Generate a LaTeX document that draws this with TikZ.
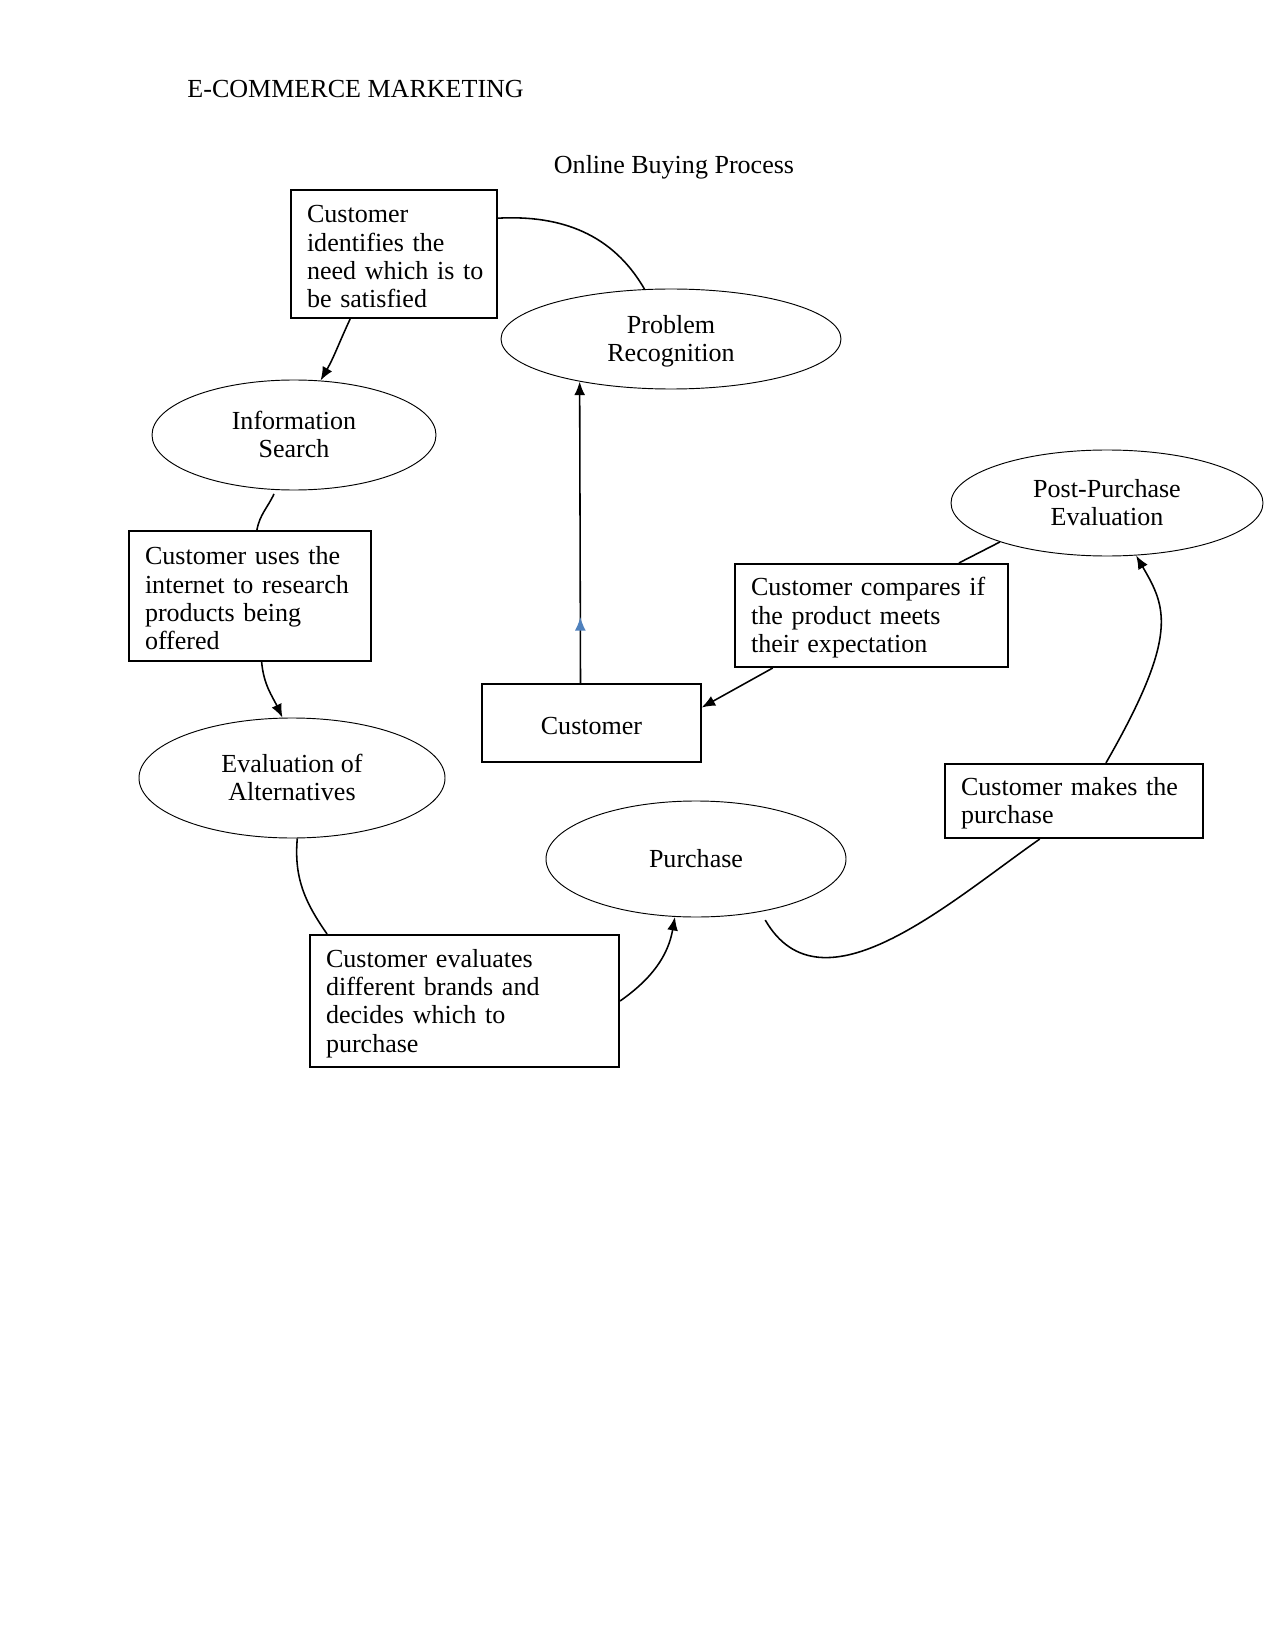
\documentclass[tikz,border=0pt]{standalone}
\usepackage{fontspec}
\setmainfont{Liberation Serif}
\usetikzlibrary{shapes.geometric,arrows.meta,calc,decorations.markings}
\definecolor{blueish}{RGB}{79,129,189}
\newcommand\ellText[1]{\raisebox{-1.5pt}[\height][\depth]{\begin{tabular}{@{}c@{}}#1\end{tabular}}}
\begin{document}
\begin{tikzpicture}[x=0.48pt,y=0.48pt,
  every node/.style={font=\fontsize{12.5}{13.6}\selectfont},
  lowered/.style={execute at begin node={\rule{0pt}{11pt}}},
  ell/.style={ellipse,draw,line width=0.45pt,inner sep=0pt},
  boxn/.style={rectangle,draw,line width=1pt,inner xsep=7.68pt,inner ysep=0pt,align=left,lowered},
  con/.style={line width=0.75pt},
  arr/.style={line width=0.75pt,-{Latex[length=6.5pt,width=5.2pt]}}]
\path[use as bounding box,fill=white] (0,0) rectangle (1275,-1650);

\node[anchor=base west,inner sep=0pt] (title) at (187,-97.8) {E-COMMERCE MARKETING};
\node[anchor=base,inner sep=0pt] (sub) at (674,-173.6) {Online Buying Process};

% ellipses
\node[ell,minimum width=340*0.48pt,minimum height=100*0.48pt] (pr) at (671,-339) {\ellText{Problem\\Recognition}};
\node[ell,minimum width=284*0.48pt,minimum height=110*0.48pt] (is) at (294,-435) {\ellText{Information\\Search}};
\node[ell,minimum width=306*0.48pt,minimum height=120*0.48pt] (ea) at (292,-778) {\ellText{Evaluation of\\Alternatives}};
\node[ell,minimum width=300*0.48pt,minimum height=116*0.48pt] (pur) at (696,-859) {Purchase};
\node[ell,minimum width=312*0.48pt,minimum height=106*0.48pt] (ppe) at (1107,-503) {\ellText{Post-Purchase\\Evaluation}};

% boxes
\node[boxn,text width=174*0.48pt,minimum width=206*0.48pt,minimum height=128*0.48pt] (box1) at (394,-254)
  {Customer\\identifies~the\\need~which~is~to\\be~satisfied};
\node[boxn,text width=210*0.48pt,minimum width=242*0.48pt,minimum height=130*0.48pt] (box2) at (250,-596)
  {Customer~uses~the\\internet~to~research\\products~being\\offered};
\node[boxn,text width=277*0.48pt,minimum width=309*0.48pt,minimum height=132*0.48pt] (box3) at (464.5,-1001)
  {Customer~evaluates\\different~brands~and\\decides~which~to\\purchase};
\node[boxn,text width=241*0.48pt,minimum width=273*0.48pt,minimum height=103*0.48pt] (box4) at (871.5,-615.5)
  {Customer~compares~if\\the~product~meets\\their~expectation};
\node[boxn,text width=226*0.48pt,minimum width=258*0.48pt,minimum height=74*0.48pt] (box5) at (1074,-801)
  {Customer~makes~the\\purchase};
\node[rectangle,draw,line width=0.6pt,minimum width=219*0.48pt,minimum height=78*0.48pt,lowered] (cust) at (591.5,-723) {Customer};

% connectors
\draw[con] (box1.19) to[out=3,in=120] (pr.118);
\draw[arr] (box1.236) to[out=245,in=60] (is.64);
\draw[con] ($(is.250)+(0,-4)$) to[out=245,in=80] (box2.84);
\draw[arr] (box2.280) to[out=275,in=115] (ea.99);
\draw[con] (ea.275) to[out=265,in=125] (box3.154);
\draw[arr] (box3.east) to[out=35,in=260] (pur.250);
\draw[con] ($(pur.320)+(6,-8)$) to[out=-60,in=215] (box5.228);
\draw[arr] (box5.50) .. controls (1180,-634) and (1166,-607) .. (ppe.299);
\draw[con] (ppe.200) -- (box4.31);
\draw[arr] (box4.208) -- (cust.8);
\draw[arr,postaction={decorate},decoration={markings,
   mark=at position 0.22 with {\arrow[blueish]{Latex[length=6.5pt,width=5.2pt]}}}]
  ($(cust.north)+(-11,0)$) -- (pr.205);
\end{tikzpicture}
\end{document}
